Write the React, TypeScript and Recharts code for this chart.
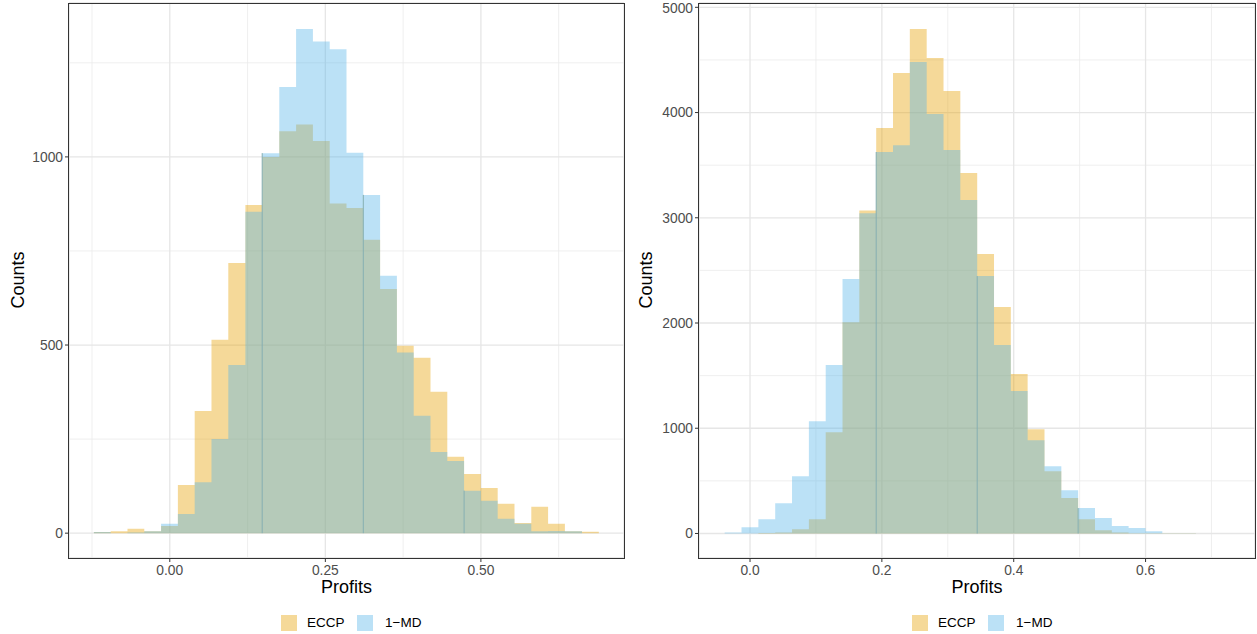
import React from 'react';
import { AreaChart, Area, XAxis, YAxis, CartesianGrid, ReferenceLine } from 'recharts';

// bin edges (31 each, 30 bins), counts per bin
const LEFT_EDGES = [
  -0.122, -0.095, -0.068, -0.041, -0.014, 0.013, 0.040, 0.067, 0.094, 0.1215, 0.1485,
  0.176, 0.203, 0.230, 0.257, 0.284, 0.311, 0.338, 0.365, 0.392, 0.419,
  0.446, 0.473, 0.500, 0.527, 0.554, 0.581, 0.608, 0.635, 0.6625, 0.6895,
];
const LEFT_ECCP = [3, 5, 12, 5, 19, 128, 325, 514, 718, 872, 1000, 1068, 1086, 1042, 876, 864, 780, 649, 498, 466, 376, 203, 157, 120, 78, 27, 70, 25, 5, 4];
const LEFT_MD = [3, 0, 2, 5, 25, 51, 135, 250, 447, 854, 1010, 1186, 1340, 1307, 1286, 1011, 899, 684, 480, 312, 216, 192, 113, 86, 38, 25, 5, 6, 5, 0];

const RIGHT_EDGES = [
  -0.0384, -0.0129, 0.0127, 0.0382, 0.0637, 0.0893, 0.1148, 0.1403, 0.1658, 0.1914, 0.2169,
  0.2424, 0.268, 0.2935, 0.319, 0.3446, 0.3701, 0.3956, 0.4211, 0.4467, 0.4722,
  0.4977, 0.5233, 0.5488, 0.5743, 0.5999, 0.6254, 0.6509, 0.6764, 0.702, 0.7275,
];
const RIGHT_ECCP = [0, 0, 5, 10, 40, 136, 963, 2008, 3070, 3853, 4375, 4795, 4518, 4205, 3425, 2655, 2151, 1515, 991, 592, 336, 136, 31, 10, 3, 2, 3, 2, 1, 1];
const RIGHT_MD = [10, 60, 136, 288, 545, 1067, 1600, 2418, 3042, 3625, 3690, 4480, 3987, 3644, 3168, 2446, 1791, 1354, 887, 640, 412, 241, 146, 70, 51, 22, 3, 2, 1, 1];

// bins where the rendered bars show a faint seam
const LEFT_SEAMS = [10, 16, 22];
const RIGHT_SEAMS = [9, 15, 21];

const LEFT_X_TICKS = [0, 0.25, 0.5];
const LEFT_X_MINOR = [-0.125, 0.125, 0.375, 0.625];
const LEFT_Y_TICKS = [0, 500, 1000];
const LEFT_Y_MINOR = [250, 750, 1250];

const RIGHT_X_TICKS = [0, 0.2, 0.4, 0.6];
const RIGHT_X_MINOR = [0.1, 0.3, 0.5, 0.7];
const RIGHT_Y_TICKS = [0, 1000, 2000, 3000, 4000, 5000];
const RIGHT_Y_MINOR = [500, 1500, 2500, 3500, 4500];

const SERIES = [
  { key: 'eccp', name: 'ECCP', color: '#E69F00' },
  { key: 'md', name: '1\u2212MD', color: '#56B4E9' },
];

const FONT = '"Liberation Sans", Arial, Helvetica, sans-serif';

const toRows = (edges: number[], eccp: number[], md: number[]) =>
  edges.map((x, i) => ({ x, eccp: i < eccp.length ? eccp[i] : 0, md: i < md.length ? md[i] : 0 }));

interface PanelProps {
  left: number;
  width: number;
  yAxisWidth: number;
  marginRight: number;
  edges: number[];
  eccp: number[];
  md: number[];
  seams: number[];
  xDomain: [number, number];
  yDomain: [number, number];
  xTicks: number[];
  xMinor: number[];
  yTicks: number[];
  yMinor: number[];
  digits: number;
  legendX: number;
}

const Panel: React.FC<PanelProps> = (p) => {
  const data = toRows(p.edges, p.eccp, p.md);
  const plotLeft = p.left + p.yAxisWidth;
  const plotRight = p.left + p.width - p.marginRight;
  const plotCenter = (plotLeft + plotRight) / 2;

  return (
    <>
      <div style={{ position: 'absolute', left: p.left, top: 0 }}>
        <AreaChart
          width={p.width}
          height={634}
          data={data}
          margin={{ top: 3, right: p.marginRight, bottom: 46, left: 0 }}
        >
          <XAxis xAxisId="minor" type="number" dataKey="x" domain={p.xDomain} ticks={p.xMinor} allowDataOverflow hide />
          <YAxis yAxisId="minor" type="number" domain={p.yDomain} ticks={p.yMinor} allowDataOverflow hide />
          <CartesianGrid xAxisId="minor" yAxisId="minor" stroke="#EBEBEB" strokeWidth={0.8} />
          <CartesianGrid stroke="#E6E6E6" strokeWidth={1.3} />
          <XAxis
            type="number"
            dataKey="x"
            domain={p.xDomain}
            ticks={p.xTicks}
            allowDataOverflow
            height={30}
            axisLine={false}
            tickLine={{ stroke: '#333333' }}
            tickSize={4}
            tickMargin={3}
            tick={{ fill: '#4D4D4D', fontSize: 13.8, fontFamily: FONT }}
            tickFormatter={(v: number) => v.toFixed(p.digits)}
          />
          <YAxis
            type="number"
            domain={p.yDomain}
            ticks={p.yTicks}
            allowDataOverflow
            width={p.yAxisWidth}
            axisLine={false}
            tickLine={{ stroke: '#333333' }}
            tickSize={4}
            tickMargin={2}
            tick={{ fill: '#4D4D4D', fontSize: 13.8, fontFamily: FONT }}
          />
          {SERIES.map((s) => (
            <Area
              key={s.key}
              dataKey={s.key}
              name={s.name}
              type="stepAfter"
              stroke="none"
              fill={s.color}
              fillOpacity={0.4}
              dot={false}
              activeDot={false}
              isAnimationActive={false}
            />
          ))}
          {p.seams.map((b) => (
            <ReferenceLine
              key={b}
              segment={[{ x: p.edges[b], y: 0 }, { x: p.edges[b], y: p.md[b] }]}
              stroke="#86AFB2"
              strokeWidth={1}
            />
          ))}
        </AreaChart>
      </div>
      {/* panel border */}
      <div
        style={{
          position: 'absolute',
          left: plotLeft - 1,
          top: 3,
          width: plotRight - plotLeft,
          height: 554,
          border: '1px solid #333333',
          pointerEvents: 'none',
        }}
      />
      {/* axis titles */}
      <div
        style={{
          position: 'absolute',
          left: plotCenter - 60,
          width: 120,
          top: 576,
          textAlign: 'center',
          fontFamily: FONT,
          fontSize: 18,
          color: '#000',
          lineHeight: '22px',
        }}
      >
        Profits
      </div>
      <div
        style={{
          position: 'absolute',
          left: p.left + 18 - 60,
          top: 280 - 11,
          width: 120,
          textAlign: 'center',
          fontFamily: FONT,
          fontSize: 18,
          lineHeight: '22px',
          color: '#000',
          transform: 'rotate(-90deg)',
        }}
      >
        Counts
      </div>
      {/* legend */}
      {SERIES.map((s, i) => (
        <React.Fragment key={s.key}>
          <div
            style={{
              position: 'absolute',
              left: p.legendX + i * 76,
              top: 615,
              width: 16,
              height: 16,
              background: s.color,
              opacity: 0.4,
            }}
          />
          <div
            style={{
              position: 'absolute',
              left: p.legendX + 26 + i * 78,
              top: 615,
              lineHeight: '16px',
              fontFamily: FONT,
              fontSize: 13.5,
              color: '#000',
              whiteSpace: 'nowrap',
            }}
          >
            {s.name}
          </div>
        </React.Fragment>
      ))}
    </>
  );
};

export default function App() {
  return (
    <div style={{ position: 'absolute', left: 0, top: 0, width: 1257, height: 634, background: '#fff', overflow: 'hidden' }}>
      <Panel
        left={0}
        width={628}
        yAxisWidth={69}
        marginRight={4}
        edges={LEFT_EDGES}
        eccp={LEFT_ECCP}
        md={LEFT_MD}
        seams={LEFT_SEAMS}
        xDomain={[-0.162, 0.73]}
        yDomain={[-66, 1409]}
        xTicks={LEFT_X_TICKS}
        xMinor={LEFT_X_MINOR}
        yTicks={LEFT_Y_TICKS}
        yMinor={LEFT_Y_MINOR}
        digits={2}
        legendX={281}
      />
      <Panel
        left={628}
        width={629}
        yAxisWidth={71}
        marginRight={2}
        edges={RIGHT_EDGES}
        eccp={RIGHT_ECCP}
        md={RIGHT_MD}
        seams={RIGHT_SEAMS}
        xDomain={[-0.0774, 0.766]}
        yDomain={[-233, 5041]}
        xTicks={RIGHT_X_TICKS}
        xMinor={RIGHT_X_MINOR}
        yTicks={RIGHT_Y_TICKS}
        yMinor={RIGHT_Y_MINOR}
        digits={1}
        legendX={912}
      />
    </div>
  );
}
